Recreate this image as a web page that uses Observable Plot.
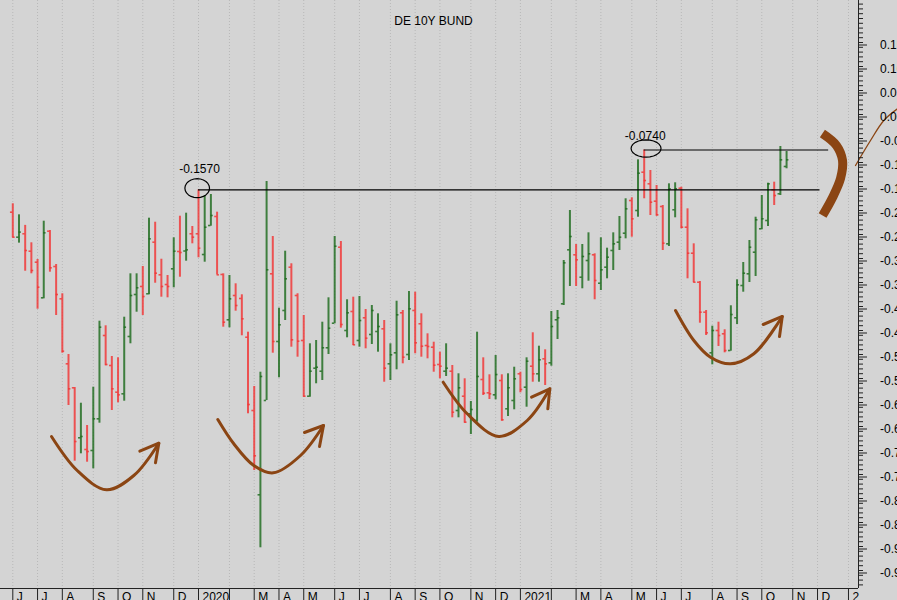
<!DOCTYPE html>
<html><head><meta charset="utf-8">
<script src="https://cdn.jsdelivr.net/npm/d3@7"></script>
<script src="https://cdn.jsdelivr.net/npm/@observablehq/plot@0.6"></script>
<style>
html,body{margin:0;padding:0;background:#d4d4d4;overflow:hidden;}
#chart svg{display:block;}
</style></head><body><div id="chart"></div>
<script>
const title = "DE 10Y BUND";
// weekly bars (Fridays, from 2019-06-07), yields in %
const open = [
-0.2035,-0.2556,-0.2485,-0.2848,-0.3077,-0.3819,-0.2431,-0.3167,-0.384,-0.5194,
-0.5694,-0.6735,-0.6979,-0.7,-0.634,-0.4604,-0.5229,-0.5785,-0.5819,-0.4625,
-0.375,-0.3583,-0.3735,-0.266,-0.334,-0.3542,-0.3215,-0.2854,-0.2844,-0.2485,
-0.2485,-0.2917,-0.2313,-0.2125,-0.3333,-0.4277,-0.3771,-0.3833,-0.464,-0.6167,
-0.7923,-0.5958,-0.3319,-0.4729,-0.4083,-0.3181,-0.3771,-0.4708,-0.5869,-0.5285,
-0.5348,-0.486,-0.4348,-0.2765,-0.45,-0.4104,-0.4708,-0.4235,-0.4583,-0.4521,
-0.4465,-0.5194,-0.4965,-0.4131,-0.5,-0.4083,-0.436,-0.4813,-0.4848,-0.5208,
-0.5348,-0.5348,-0.6167,-0.5869,-0.6235,-0.6375,-0.5521,-0.5798,-0.584,-0.5542,
-0.6131,-0.5958,-0.5402,-0.5681,-0.5244,-0.5402,-0.509,-0.5173,-0.4277,-0.3944,
-0.2819,-0.2923,-0.339,-0.3042,-0.2923,-0.3515,-0.3181,-0.2833,-0.266,-0.2473,
-0.1792,-0.2,-0.1202,-0.1444,-0.1806,-0.1917,-0.2694,-0.1985,-0.1535,-0.2348,
-0.289,-0.3494,-0.4119,-0.4965,-0.45,-0.4569,-0.4917,-0.4235,-0.3563,-0.3319,
-0.2869,-0.2381,-0.2208,-0.1569,-0.1652,-0.1083];
const high = [
-0.186,-0.209,-0.231,-0.2673,-0.302,-0.2223,-0.2417,-0.3125,-0.3735,-0.5,
-0.5688,-0.6015,-0.6479,-0.5681,-0.4306,-0.4402,-0.5042,-0.5069,-0.4223,-0.3319,
-0.3319,-0.3167,-0.216,-0.2244,-0.3015,-0.3354,-0.2569,-0.2119,-0.2056,-0.2333,
-0.157,-0.1688,-0.1667,-0.2035,-0.3319,-0.3354,-0.3527,-0.3756,-0.4535,-0.5667,
-0.5369,-0.1396,-0.2542,-0.4035,-0.2848,-0.311,-0.3735,-0.4188,-0.4777,-0.4708,
-0.4327,-0.3819,-0.2542,-0.2646,-0.386,-0.3806,-0.3792,-0.4063,-0.3979,-0.4152,
-0.4292,-0.4777,-0.389,-0.4083,-0.3688,-0.3702,-0.4152,-0.4569,-0.4744,-0.4952,
-0.4777,-0.5229,-0.5402,-0.5506,-0.5979,-0.4535,-0.5069,-0.5423,-0.5021,-0.5423,
-0.5402,-0.5265,-0.5369,-0.5069,-0.4548,-0.4827,-0.4902,-0.4104,-0.4083,-0.3042,
-0.2,-0.2708,-0.2708,-0.2465,-0.2902,-0.2569,-0.2785,-0.2465,-0.2125,-0.1756,
-0.1735,-0.0944,-0.074,-0.1167,-0.1479,-0.1896,-0.1444,-0.1423,-0.1515,-0.1965,
-0.2694,-0.3479,-0.4083,-0.441,-0.4327,-0.4485,-0.3985,-0.3444,-0.3083,-0.2625,
-0.214,-0.1688,-0.1431,-0.141,-0.0667,-0.0771];
const low = [
-0.257,-0.268,-0.3265,-0.3319,-0.4056,-0.384,-0.3285,-0.4188,-0.4973,-0.6063,
-0.7223,-0.7069,-0.7244,-0.7381,-0.6431,-0.5235,-0.6167,-0.6006,-0.5973,-0.4777,
-0.4119,-0.4188,-0.3756,-0.3515,-0.3806,-0.3819,-0.361,-0.339,-0.3056,-0.2694,
-0.2985,-0.3077,-0.2327,-0.334,-0.4431,-0.4444,-0.4098,-0.461,-0.6235,-0.7417,
-0.9027,-0.5958,-0.4973,-0.5485,-0.4292,-0.4848,-0.5056,-0.589,-0.589,-0.561,
-0.5542,-0.5,-0.436,-0.4452,-0.4652,-0.4813,-0.4848,-0.4881,-0.4792,-0.4952,
-0.5577,-0.5542,-0.5319,-0.5194,-0.5125,-0.4985,-0.5056,-0.509,-0.5369,-0.5506,
-0.5458,-0.6319,-0.6319,-0.6431,-0.6667,-0.641,-0.5854,-0.5938,-0.5944,-0.639,
-0.6292,-0.6152,-0.5798,-0.6098,-0.5577,-0.5577,-0.5646,-0.5244,-0.4688,-0.3979,
-0.3583,-0.3583,-0.3631,-0.3473,-0.386,-0.3667,-0.3423,-0.325,-0.2833,-0.259,
-0.2556,-0.214,-0.1756,-0.2104,-0.2119,-0.2833,-0.275,-0.2152,-0.2381,-0.3423,
-0.3506,-0.4348,-0.4604,-0.5215,-0.4833,-0.4965,-0.4931,-0.4375,-0.3702,-0.35,
-0.3375,-0.2402,-0.2333,-0.1896,-0.1688,-0.1131];
const close = [
-0.2556,-0.245,-0.2833,-0.325,-0.3598,-0.2465,-0.3194,-0.375,-0.4931,-0.5715,
-0.6813,-0.6708,-0.7021,-0.634,-0.4431,-0.5208,-0.5715,-0.584,-0.4431,-0.3771,
-0.361,-0.3792,-0.259,-0.3306,-0.3583,-0.3583,-0.2848,-0.2875,-0.2819,-0.2556,
-0.2785,-0.2348,-0.2104,-0.334,-0.4327,-0.384,-0.3979,-0.4256,-0.6042,-0.711,
-0.5458,-0.3235,-0.4729,-0.4381,-0.3423,-0.4694,-0.4723,-0.5869,-0.5348,-0.5265,
-0.486,-0.4452,-0.2744,-0.4375,-0.4131,-0.4798,-0.4292,-0.466,-0.4083,-0.4417,
-0.5285,-0.5006,-0.4173,-0.5056,-0.4048,-0.4756,-0.4827,-0.4833,-0.5223,-0.5244,
-0.5285,-0.6202,-0.5694,-0.641,-0.6146,-0.5458,-0.5806,-0.5819,-0.5417,-0.636,
-0.5694,-0.5506,-0.5729,-0.514,-0.5402,-0.511,-0.5194,-0.4417,-0.4235,-0.309,
-0.2542,-0.3027,-0.2958,-0.2902,-0.3458,-0.3235,-0.2973,-0.2694,-0.2556,-0.1965,
-0.2173,-0.1223,-0.1375,-0.1827,-0.209,-0.2681,-0.1548,-0.1548,-0.2348,-0.289,
-0.3494,-0.4119,-0.4548,-0.45,-0.4604,-0.4917,-0.4167,-0.3548,-0.3306,-0.2765,
-0.2194,-0.2173,-0.1444,-0.1688,-0.0944,-0.0944];

// month starts (bar index) and labels
const monthIdx = [0,4,8,13,17,21,26,30,35,39,43,47,52,56,61,65,69,74,78,82,87,91,95,100,104,108,113,117,121,126,130,135];
const monthLbl = ["J","J","A","S","O","N","D","2020","","M","A","M","J","J","A","S","O","N","D","2021","","M","A","M","J","J","A","S","O","N","D","2"];
const yTicks = [0.15,0.10,0.05,0.00,-0.05,-0.10,-0.15,-0.20,-0.25,-0.30,-0.35,-0.40,-0.45,-0.50,-0.55,-0.60,-0.65,-0.70,-0.75,-0.80,-0.85,-0.90,-0.95];
const yMinor = d3.range(-98, 24).map(d => d / 100);

// resistance levels
const levelBar = [30, 102];
const levelVal = [-0.157, -0.074];
const levelEnd = [130.4, 131.8];

// hand-drawn annotations (bar index, yield)
const arrowPaths = [
  [[6.25,-0.6708],[10.40,-0.7417],[15.14,-0.7819],[19.55,-0.7521],[23.59,-0.6848]],
  [[33.12,-0.6354],[35.70,-0.6860],[38.93,-0.7313],[42.07,-0.7465],[46.48,-0.7104],[50.19,-0.6479]],
  [[69.53,-0.5577],[73.41,-0.6235],[78.51,-0.6708],[83.10,-0.6375],[86.75,-0.5715]],
  [[107.06,-0.4083],[110.02,-0.4708],[112.71,-0.5056],[115.94,-0.5194],[119.71,-0.4985],[124.30,-0.4208]]
];
const arrowHeads = [
  [[20.52,-0.7015],[23.59,-0.6848],[23.05,-0.7256]],
  [[47.12,-0.6625],[50.19,-0.6479],[49.55,-0.6917]],
  [[83.80,-0.5890],[86.75,-0.5715],[86.43,-0.6131]],
  [[121.23,-0.4375],[124.30,-0.4208],[123.86,-0.4625]]
];
const bracket = [[130.79,-0.0396],[133.07,-0.0646],[134.04,-0.0958],[133.72,-0.1333],[132.43,-0.1729],[130.82,-0.2104]];
const thinArc = [[136.14,-0.1063],[138.56,-0.0542],[140.71,-0.0125],[142.92,0.0119]];
const ellipses = [[29.79,-0.1535,1.99,0.0198],[102.3,-0.0708,2.42,0.0181]];

const xDomain = [-1.987, 136.62];
const yDomain = [-0.9875, 0.2375];
const BROWN = "#8b4513";
const GREEN = "#1d6b1d", RED = "#f23434";
const tw = 0.38;

const bars = d3.range(open.length);
const up = bars.filter(i => close[i] >= open[i]);
const down = bars.filter(i => close[i] < open[i]);

function ohlc(idx, color) {
  return [
    Plot.ruleX(idx, {x: i => i, y1: i => low[i], y2: i => high[i], stroke: color, strokeWidth: 2, strokeOpacity: 0.82}),
    Plot.ruleY(idx, {y: i => open[i], x1: i => i - tw, x2: i => i, stroke: color, strokeWidth: 1.6, strokeOpacity: 0.82}),
    Plot.ruleY(idx, {y: i => close[i], x1: i => i, x2: i => i + tw, stroke: color, strokeWidth: 1.6, strokeOpacity: 0.82})
  ];
}
const flat = (arr) => arr.flatMap((p, k) => p.map(d => ({k, x: d[0], y: d[1]})));
const ellPts = ellipses.flatMap((e, k) => d3.range(24).map(j => ({k, x: e[0] + e[2] * Math.cos(j * Math.PI / 12), y: e[1] + e[3] * Math.sin(j * Math.PI / 12)})));

const chart = Plot.plot({
  width: 897, height: 600,
  marginLeft: 0, marginRight: 39, marginTop: 0, marginBottom: 12,
  x: {type: "linear", domain: xDomain, axis: null},
  y: {type: "linear", domain: yDomain, label: null},
  style: {background: "#d4d4d4", fontFamily: "'Liberation Sans', Arial, sans-serif", fontSize: "12px", color: "#000"},
  marks: [
    Plot.ruleX(monthIdx, {x: d => d, stroke: "#b8b8b8", strokeDasharray: "1,2"}),
    ...ohlc(down, RED),
    ...ohlc(up, GREEN),
    Plot.ruleY(levelBar, {y: (d, i) => levelVal[i], x1: d => d, x2: (d, i) => levelEnd[i], stroke: "#000", strokeWidth: 1.2}),
    Plot.line(ellPts, {x: "x", y: "y", z: "k", curve: "linear-closed", stroke: "#000", strokeWidth: 1.2}),
    Plot.text([0], {x: levelBar[0], y: levelVal[0], text: () => levelVal[0].toFixed(4), dx: 1, dy: -20.5, fontSize: 12}),
    Plot.text([1], {x: levelBar[1], y: levelVal[1], text: () => levelVal[1].toFixed(4), dx: 1, dy: -14, fontSize: 12}),
    Plot.line(flat(arrowPaths), {x: "x", y: "y", z: "k", curve: "catmull-rom", stroke: BROWN, strokeWidth: 3, strokeLinecap: "round"}),
    Plot.line(flat(arrowHeads), {x: "x", y: "y", z: "k", stroke: BROWN, strokeWidth: 3, strokeLinecap: "round", strokeLinejoin: "round"}),
    Plot.line(bracket, {x: d => d[0], y: d => d[1], curve: "catmull-rom", stroke: BROWN, strokeWidth: 9, strokeLinecap: "butt"}),
    Plot.line(thinArc, {x: d => d[0], y: d => d[1], curve: "catmull-rom", stroke: BROWN, strokeWidth: 1.3}),
    // axes frame
    Plot.ruleY([yDomain[0]], {stroke: "#222", strokeWidth: 1}),
    Plot.ruleX([xDomain[1]], {y1: yDomain[0], y2: yDomain[1], stroke: "#222", strokeWidth: 1}),
    Plot.ruleX(monthIdx, {x: d => d, y1: yDomain[0], y2: yDomain[0] - 0.03, stroke: "#222"}),
    Plot.text(monthIdx, {x: d => d, y: yDomain[0], text: (d, i) => monthLbl[i], textAnchor: "start", lineAnchor: "top", dx: 4, dy: 4, fontSize: 12}),
    Plot.axisY({anchor: "right", ticks: yMinor, tickSize: 4, tickFormat: () => "", label: null, stroke: "#222"}),
    Plot.axisY({anchor: "right", ticks: yTicks, tickSize: 8, tickPadding: 13.5, tickFormat: d => d.toFixed(2), label: null, fontSize: 12, dy: 2.5, stroke: "#222"}),
    Plot.text([title], {frameAnchor: "top", text: d => d, dx: 4, dy: 16, fontSize: 12})
  ]
});
document.getElementById("chart").appendChild(chart);
</script>
</body></html>
